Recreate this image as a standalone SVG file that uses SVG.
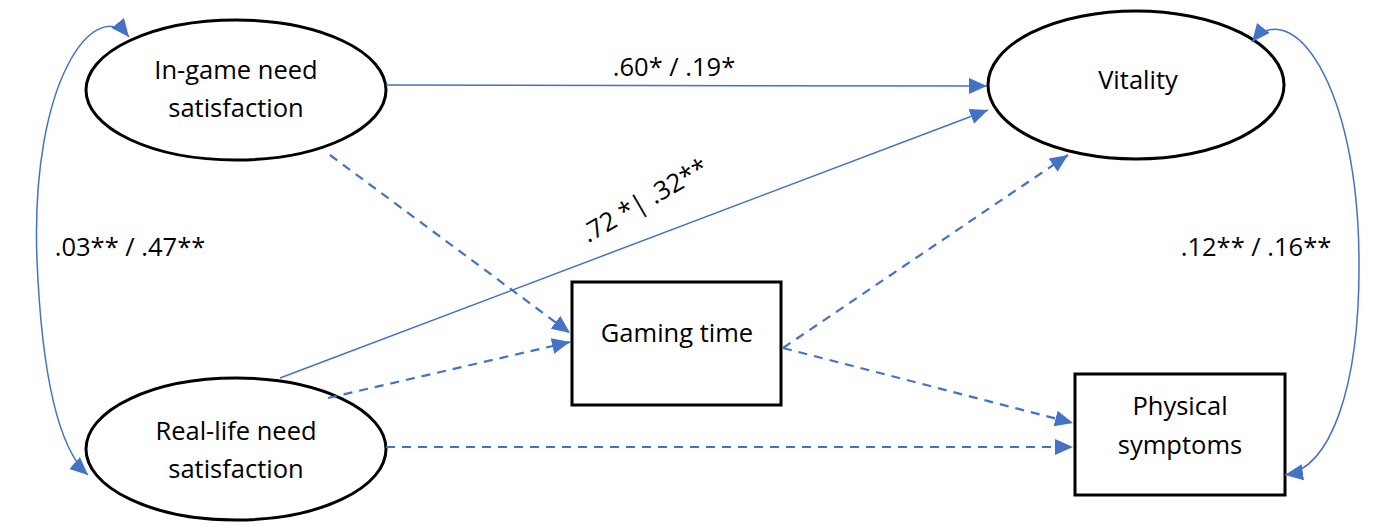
<svg xmlns="http://www.w3.org/2000/svg" width="1381" height="526" viewBox="0 0 1381 526">
<style>
.node{fill:#fff;stroke:#000;stroke-width:3}
.lbl{font-family:"Open Sans","Liberation Sans",sans-serif;font-size:25.5px;fill:#000;text-anchor:middle}
.c{fill:none;stroke:#4472C4;stroke-width:1.5}
.d{fill:none;stroke:#4472C4;stroke-width:2.2;stroke-dasharray:9 7}
</style>
<defs>
<marker id="ah" markerUnits="userSpaceOnUse" markerWidth="20" markerHeight="18" refX="18" refY="8" orient="auto">
<path d="M0,0 L18,8 L0,16 Z" fill="#4472C4"/>
</marker>
<marker id="ahs" markerUnits="userSpaceOnUse" markerWidth="20" markerHeight="18" refX="18" refY="8" orient="auto-start-reverse">
<path d="M0,0 L18,8 L0,16 Z" fill="#4472C4"/>
</marker>
</defs>
<g id="n-ingame">
<ellipse class="node" cx="236" cy="90" rx="150" ry="70"/>
<text class="lbl" x="236" y="79">In-game need</text>
<text class="lbl" x="236" y="117">satisfaction</text>
</g>
<g id="n-reallife">
<ellipse class="node" cx="236" cy="449" rx="150" ry="71"/>
<text class="lbl" x="236" y="440">Real-life need</text>
<text class="lbl" x="236" y="478">satisfaction</text>
</g>
<g id="n-vitality">
<ellipse class="node" cx="1136" cy="85" rx="148" ry="74"/>
<text class="lbl" x="1138" y="89">Vitality</text>
</g>
<g id="n-gaming">
<rect class="node" x="572" y="282" width="209" height="123"/>
<text class="lbl" x="677" y="342">Gaming time</text>
</g>
<g id="n-physical">
<rect class="node" x="1075" y="374" width="210" height="121"/>
<text class="lbl" x="1180" y="415">Physical</text>
<text class="lbl" x="1180" y="454">symptoms</text>
</g>
<g id="connectors">
<path class="c" d="M386,85 L987,86" marker-end="url(#ah)"/>
<path class="c" d="M280,378 L988,110" marker-end="url(#ah)"/>
<path class="d" d="M330,155 L570,333" marker-end="url(#ah)"/>
<path class="d" d="M328,398 L570,342" marker-end="url(#ah)"/>
<path class="d" d="M386,447 L1073,447" marker-end="url(#ah)"/>
<path class="d" d="M783,348 L1068,155" marker-end="url(#ah)"/>
<path class="d" d="M783,348 L1073,423" marker-end="url(#ah)"/>
<path class="c" d="M129,37 C95,-5 30,80 37,260 C42,380 60,450 88,475" marker-start="url(#ahs)" marker-end="url(#ah)"/>
<path class="c" d="M1252,42 C1290,-5 1358,80 1359,260 C1360,390 1330,468 1285,475" marker-start="url(#ahs)" marker-end="url(#ah)"/>
</g>
<g id="labels">
<text class="lbl" x="674" y="76">.60* / .19*</text>
<text class="lbl" x="130" y="256">.03** / .47**</text>
<text class="lbl" x="1256" y="256">.12** / .16**</text>
<text class="lbl" transform="translate(649,208) rotate(-30)" x="0" y="0">.72 *| .32**</text>
</g>
</svg>
